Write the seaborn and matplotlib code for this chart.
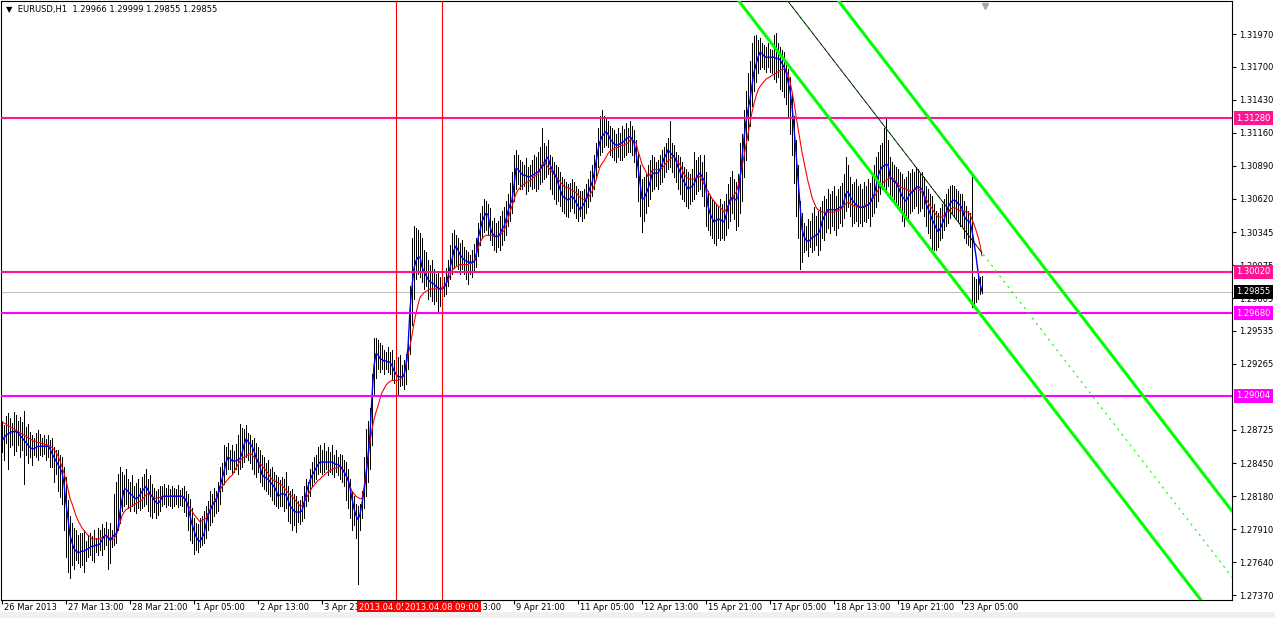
import numpy as np
import pandas as pd
import matplotlib
matplotlib.use("Agg")
import matplotlib.pyplot as plt
import matplotlib.transforms as mtransforms
from matplotlib.patches import Rectangle
import seaborn as sns

# EURUSD H1, one value per hourly bar (bar 0 = 26 Mar 05:00 ... bar 490 = 23 Apr 15:00)
# prices stored in 1/10000 units
bar_high = [
    12880, 12876, 12884, 12886, 12882, 12878, 12887, 12885, 12880, 12883,
    12879, 12888, 12875, 12877, 12871, 12868, 12866, 12870, 12872, 12869,
    12866, 12868, 12865, 12868, 12864, 12866, 12858, 12856, 12856, 12852,
    12850, 12842, 12834, 12815, 12802, 12796, 12792, 12790, 12786, 12788,
    12788, 12790, 12781, 12786, 12788, 12785, 12790, 12784, 12792, 12790,
    12795, 12792, 12797, 12791, 12796, 12790, 12820, 12830, 12836, 12842,
    12838, 12835, 12840, 12832, 12830, 12835, 12826, 12829, 12832, 12825,
    12834, 12836, 12840, 12832, 12835, 12828, 12825, 12822, 12824, 12826,
    12826, 12828, 12825, 12827, 12824, 12826, 12825, 12824, 12827, 12823,
    12825, 12826, 12822, 12820, 12816, 12808, 12800, 12796, 12795, 12800,
    12802, 12806, 12810, 12814, 12822, 12820, 12825, 12822, 12830, 12842,
    12845, 12860, 12858, 12862, 12856, 12860, 12855, 12861, 12868, 12877,
    12874, 12873, 12876, 12870, 12868, 12864, 12866, 12862, 12858, 12856,
    12852, 12850, 12845, 12848, 12840, 12842, 12838, 12835, 12834, 12831,
    12834, 12832, 12838, 12826, 12822, 12824, 12820, 12818, 12814, 12815,
    12818, 12826, 12832, 12830, 12840, 12846, 12850, 12852, 12858, 12860,
    12856, 12862, 12855, 12858, 12854, 12860, 12852, 12856, 12850, 12853,
    12852, 12848, 12846, 12840, 12832, 12822, 12818, 12812, 12810, 12812,
    12822, 12850, 12873, 12880, 12890, 12918, 12948, 12948, 12946, 12944,
    12942, 12938, 12936, 12940, 12936, 12938, 12930, 12928, 12932, 12934,
    12926, 12930, 12935, 12952, 12990, 13030, 13040, 13038, 13036, 13034,
    13030, 13020, 13018, 13012, 13008, 13012, 13004, 13000, 13002, 12998,
    12996, 12998, 13005, 13012, 13024, 13034, 13036, 13032, 13030, 13026,
    13028, 13022, 13020, 13018, 13016, 13020, 13025, 13030, 13042, 13050,
    13056, 13062, 13060, 13058, 13054, 13044, 13046, 13042, 13044, 13048,
    13052, 13055, 13060, 13066, 13075, 13084, 13098, 13102, 13098, 13094,
    13092, 13090, 13095, 13088, 13090, 13094, 13098, 13096, 13100, 13104,
    13120, 13108, 13105, 13110, 13098, 13096, 13092, 13090, 13088, 13084,
    13080, 13078, 13076, 13074, 13075, 13078, 13076, 13072, 13070, 13068,
    13068, 13070, 13074, 13078, 13085, 13090, 13098, 13108, 13120, 13130,
    13135, 13130, 13128, 13126, 13122, 13120, 13118, 13115, 13120, 13116,
    13122, 13119, 13124, 13120, 13126, 13122, 13118, 13110, 13100, 13090,
    13078, 13080, 13082, 13090, 13094, 13098, 13096, 13092, 13094, 13098,
    13102, 13104, 13108, 13112, 13126, 13108, 13106, 13100, 13098, 13096,
    13092, 13088, 13086, 13084, 13082, 13086, 13100, 13094, 13096, 13098,
    13092, 13098, 13084, 13068, 13065, 13062, 13060, 13058, 13056, 13062,
    13058, 13060, 13066, 13074, 13080, 13085, 13078, 13076, 13082, 13108,
    13115, 13135, 13150, 13165, 13175, 13190, 13195, 13196, 13192, 13194,
    13190, 13188, 13186, 13190, 13185, 13184, 13196, 13198, 13190, 13186,
    13184, 13182, 13175, 13168, 13162, 13148, 13130, 13110, 13090, 13060,
    13050, 13042, 13040, 13045, 13044, 13050, 13055, 13048, 13052, 13055,
    13060, 13064, 13062, 13070, 13066, 13068, 13072, 13064, 13070, 13072,
    13075, 13082, 13096, 13090, 13080, 13074, 13076, 13078, 13072, 13074,
    13070, 13076, 13072, 13078, 13075, 13082, 13090, 13096, 13100, 13106,
    13108, 13120, 13127, 13110, 13096, 13092, 13090, 13088, 13086, 13084,
    13082, 13078, 13080, 13085, 13083, 13086, 13084, 13088, 13086, 13082,
    13084, 13080, 13072, 13070, 13066, 13064, 13058, 13052, 13050, 13054,
    13058, 13062, 13066, 13070, 13072, 13073, 13072, 13070, 13068, 13066,
    13066, 13060, 13056, 13052, 13050, 13080, 12998, 12996, 12999, 12998,
    12999,
]
bar_low = [
    12854, 12848, 12862, 12840, 12858, 12860, 12852, 12855, 12860, 12850,
    12856, 12828, 12852, 12845, 12850, 12844, 12852, 12850, 12848, 12852,
    12851, 12853, 12848, 12850, 12842, 12842, 12830, 12836, 12822, 12817,
    12812, 12790, 12768, 12756, 12751, 12762, 12758, 12766, 12763, 12760,
    12762, 12756, 12765, 12768, 12770, 12766, 12764, 12772, 12770, 12774,
    12770, 12775, 12778, 12758, 12763, 12776, 12778, 12780, 12790, 12796,
    12806, 12810, 12812, 12808, 12806, 12810, 12806, 12804, 12808, 12807,
    12808, 12810, 12812, 12806, 12802, 12800, 12805, 12800, 12803, 12806,
    12810, 12812, 12809, 12811, 12810, 12808, 12810, 12812, 12809, 12811,
    12810, 12805, 12802, 12790, 12782, 12780, 12771, 12774, 12772, 12776,
    12778, 12780, 12784, 12790, 12794, 12797, 12802, 12804, 12806, 12812,
    12822, 12828, 12836, 12840, 12840, 12836, 12838, 12840, 12836, 12840,
    12842, 12846, 12850, 12848, 12845, 12840, 12836, 12834, 12838, 12830,
    12826, 12824, 12822, 12820, 12818, 12815, 12812, 12810, 12808, 12810,
    12810, 12806, 12808, 12798, 12796, 12790, 12794, 12789, 12797, 12795,
    12798, 12800, 12810, 12814, 12818, 12826, 12830, 12832, 12836, 12838,
    12836, 12838, 12840, 12835, 12838, 12836, 12834, 12838, 12835, 12832,
    12830, 12826, 12815, 12808, 12800, 12790, 12794, 12784, 12746, 12790,
    12800, 12808, 12818, 12830, 12840, 12860, 12900, 12915, 12922, 12920,
    12922, 12918, 12922, 12920, 12918, 12914, 12911, 12908, 12900, 12908,
    12909, 12906, 12910, 12922, 12935, 12958, 12980, 12996, 13000, 12998,
    12994, 12988, 12990, 12980, 12982, 12978, 12976, 12978, 12970, 12974,
    12978, 12982, 12984, 12990, 12996, 13000, 13005, 13008, 13004, 13000,
    13004, 13000, 12996, 12992, 13000, 12998, 13002, 13006, 13015, 13024,
    13030, 13035, 13036, 13032, 13028, 13024, 13020, 13018, 13022, 13020,
    13024, 13028, 13032, 13040, 13044, 13050, 13060, 13070, 13074, 13070,
    13070, 13072, 13066, 13068, 13072, 13070, 13071, 13068, 13070, 13074,
    13076, 13078, 13080, 13082, 13070, 13066, 13062, 13058, 13060, 13056,
    13052, 13050, 13048, 13047, 13052, 13054, 13050, 13046, 13044, 13048,
    13044, 13046, 13050, 13055, 13060, 13064, 13070, 13078, 13088, 13098,
    13100, 13104, 13106, 13104, 13098, 13096, 13094, 13092, 13096, 13094,
    13094, 13096, 13098, 13100, 13100, 13098, 13092, 13080, 13060, 13048,
    13035, 13044, 13050, 13056, 13062, 13068, 13070, 13072, 13070, 13074,
    13076, 13080, 13084, 13086, 13088, 13084, 13080, 13076, 13070, 13066,
    13062, 13060, 13056, 13054, 13058, 13060, 13062, 13066, 13068, 13070,
    13064, 13056, 13040, 13036, 13032, 13030, 13026, 13024, 13030, 13028,
    13030, 13028, 13032, 13038, 13044, 13050, 13045, 13036, 13040, 13050,
    13060, 13080, 13094, 13110, 13122, 13138, 13150, 13158, 13165, 13168,
    13170, 13168, 13166, 13170, 13166, 13165, 13160, 13158, 13162, 13152,
    13150, 13145, 13140, 13130, 13115, 13098, 13075, 13048, 13030, 13004,
    13010, 13018, 13020, 13015, 13022, 13018, 13020, 13024, 13016, 13020,
    13030, 13028, 13035, 13038, 13034, 13040, 13036, 13032, 13038, 13042,
    13040, 13046, 13052, 13055, 13048, 13040, 13042, 13044, 13040, 13042,
    13040, 13044, 13043, 13046, 13040, 13048, 13050, 13055, 13060, 13066,
    13070, 13072, 13068, 13072, 13062, 13064, 13060, 13058, 13054, 13052,
    13044, 13040, 13048, 13046, 13050, 13052, 13054, 13056, 13050, 13052,
    13054, 13048, 13040, 13034, 13030, 13018, 13020, 13020, 13022, 13028,
    13030, 13036, 13040, 13042, 13046, 13050, 13048, 13046, 13044, 13040,
    13040, 13030, 13026, 13024, 13022, 12973, 12975, 12977, 12980, 12984,
    12985,
]
ma_fast = [
    12863, 12866, 12868, 12869, 12870, 12871, 12871, 12871, 12870, 12868,
    12866, 12864, 12862, 12860, 12858, 12857, 12857, 12858, 12859, 12859,
    12859, 12859, 12859, 12859, 12857, 12853, 12850, 12847, 12844, 12841,
    12838, 12828, 12812, 12800, 12786, 12780, 12775, 12773, 12772, 12772,
    12773, 12773, 12774, 12775, 12776, 12777, 12777, 12778, 12778, 12779,
    12782, 12785, 12786, 12784, 12782, 12784, 12786, 12787, 12792, 12805,
    12815, 12823, 12824, 12822, 12820, 12819, 12817, 12816, 12817, 12819,
    12822, 12824, 12826, 12823, 12820, 12818, 12815, 12813, 12812, 12814,
    12817, 12818, 12818, 12818, 12818, 12818, 12818, 12818, 12818, 12818,
    12818, 12817, 12815, 12810, 12802, 12795, 12790, 12785, 12782, 12781,
    12784, 12787, 12795, 12802, 12806, 12810, 12813, 12814, 12820, 12826,
    12832, 12838, 12846, 12850, 12849, 12847, 12847, 12847, 12848, 12849,
    12853, 12860, 12865, 12863, 12861, 12859, 12855, 12850, 12846, 12842,
    12836, 12834, 12833, 12832, 12830, 12828, 12826, 12823, 12818, 12819,
    12820, 12820, 12819, 12815, 12810, 12808, 12806, 12805, 12805, 12805,
    12806, 12812, 12820, 12826, 12831, 12835, 12838, 12841, 12844, 12846,
    12846, 12846, 12846, 12846, 12846, 12846, 12845, 12844, 12844, 12843,
    12841, 12838, 12835, 12832, 12825, 12816, 12808, 12802, 12799, 12803,
    12812, 12822, 12834, 12852, 12869, 12900, 12925, 12935, 12934, 12931,
    12930, 12929, 12929, 12928, 12928, 12925, 12921, 12918, 12916, 12916,
    12916, 12917, 12926, 12940, 12971, 12990, 13005, 13011, 13014, 13014,
    13006, 13002, 12999, 12996, 12994, 12993, 12992, 12990, 12989, 12988,
    12988, 12989, 12992, 12998, 13005, 13012, 13020, 13023, 13020, 13016,
    13014, 13012, 13011, 13010, 13010, 13010, 13010, 13013, 13029, 13036,
    13043, 13047, 13050, 13049, 13039, 13034, 13032, 13031, 13031, 13033,
    13037, 13039, 13045, 13052, 13057, 13061, 13073, 13087, 13086, 13084,
    13082, 13081, 13081, 13080, 13080, 13081, 13082, 13083, 13084, 13086,
    13088, 13090, 13094, 13096, 13090, 13086, 13083, 13080, 13075, 13070,
    13065, 13063, 13062, 13061, 13062, 13064, 13062, 13059, 13056, 13053,
    13055, 13058, 13061, 13066, 13071, 13075, 13082, 13092, 13102, 13109,
    13113, 13115, 13117, 13115, 13111, 13109, 13107, 13106, 13106, 13107,
    13108, 13109, 13111, 13112, 13113, 13111, 13108, 13100, 13088, 13075,
    13062, 13062, 13066, 13070, 13075, 13082, 13083, 13083, 13083, 13086,
    13090, 13095, 13098, 13102, 13100, 13098, 13097, 13093, 13088, 13084,
    13079, 13076, 13073, 13070, 13071, 13072, 13074, 13078, 13081, 13083,
    13080, 13077, 13070, 13056, 13050, 13046, 13043, 13044, 13045, 13045,
    13044, 13043, 13048, 13055, 13061, 13063, 13062, 13061, 13063, 13078,
    13095, 13112, 13125, 13135, 13143, 13155, 13166, 13172, 13178, 13182,
    13181, 13179, 13178, 13178, 13178, 13178, 13178, 13177, 13177, 13176,
    13173, 13170, 13166, 13158, 13151, 13138, 13120, 13100, 13078, 13057,
    13037, 13031, 13028, 13027, 13028, 13030, 13031, 13032, 13033, 13036,
    13043, 13047, 13050, 13053, 13053, 13053, 13053, 13053, 13054, 13055,
    13055, 13060, 13066, 13068, 13064, 13061, 13059, 13057, 13056, 13055,
    13055, 13055, 13056, 13057, 13058, 13062, 13065, 13072, 13080, 13085,
    13088, 13089, 13090, 13090, 13080, 13078, 13076, 13075, 13072, 13068,
    13064, 13062, 13060, 13063, 13066, 13067, 13069, 13071, 13072, 13071,
    13070, 13065, 13058, 13054, 13050, 13045, 13042, 13038, 13035, 13037,
    13041, 13045, 13050, 13055, 13058, 13060, 13061, 13060, 13058, 13057,
    13054, 13048, 13045, 13044, 13043, 13036, 13026, 13015, 13002, 12992,
    12986,
]
ma_slow = [
    12879, 12878, 12877, 12876, 12875, 12874, 12873, 12872, 12871, 12870,
    12869, 12868, 12867, 12866, 12865, 12864, 12863, 12863, 12862, 12862,
    12861, 12861, 12860, 12860, 12859, 12858, 12856, 12854, 12851, 12847,
    12842, 12837, 12831, 12824, 12816, 12812, 12807, 12802, 12798, 12795,
    12792, 12790, 12788, 12786, 12785, 12783, 12783, 12783, 12783, 12783,
    12784, 12785, 12786, 12785, 12783, 12782, 12783, 12786, 12790, 12796,
    12802, 12805, 12807, 12808, 12809, 12810, 12811, 12812, 12813, 12814,
    12815, 12817, 12819, 12820, 12819, 12818, 12817, 12816, 12817, 12817,
    12818, 12818, 12818, 12818, 12818, 12818, 12818, 12818, 12818, 12818,
    12818, 12816, 12814, 12811, 12808, 12806, 12803, 12801, 12799, 12797,
    12798, 12799, 12800, 12804, 12807, 12810, 12813, 12816, 12820, 12823,
    12826, 12828, 12830, 12832, 12834, 12835, 12838, 12841, 12844, 12847,
    12849, 12850, 12851, 12852, 12853, 12852, 12850, 12849, 12847, 12845,
    12843, 12841, 12839, 12837, 12834, 12832, 12831, 12830, 12829, 12828,
    12827, 12825, 12823, 12821, 12819, 12818, 12816, 12814, 12812, 12810,
    12810, 12813, 12816, 12819, 12822, 12825, 12827, 12829, 12831, 12832,
    12834, 12835, 12837, 12838, 12839, 12840, 12841, 12841, 12842, 12842,
    12840, 12838, 12835, 12831, 12826, 12822, 12820, 12818, 12817, 12816,
    12816, 12825, 12838, 12849, 12862, 12873, 12881, 12887, 12892, 12898,
    12903, 12906, 12909, 12911, 12912, 12913, 12913, 12913, 12913, 12914,
    12915, 12917, 12925, 12934, 12941, 12950, 12960, 12968, 12975, 12981,
    12983, 12985, 12986, 12987, 12988, 12988, 12988, 12988, 12988, 12988,
    12989, 12990, 12992, 12995, 12999, 13003, 13005, 13006, 13007, 13008,
    13008, 13008, 13008, 13008, 13009, 13009, 13011, 13016, 13021, 13026,
    13029, 13031, 13032, 13032, 13032, 13032, 13031, 13031, 13031, 13032,
    13034, 13036, 13040, 13045, 13051, 13056, 13061, 13066, 13069, 13071,
    13073, 13074, 13075, 13076, 13077, 13078, 13080, 13081, 13082, 13085,
    13090, 13092, 13090, 13088, 13086, 13084, 13082, 13080, 13078, 13076,
    13074, 13072, 13071, 13071, 13070, 13069, 13068, 13067, 13065, 13063,
    13062, 13061, 13062, 13063, 13065, 13068, 13072, 13077, 13083, 13088,
    13091, 13093, 13096, 13099, 13101, 13102, 13103, 13104, 13104, 13105,
    13106, 13106, 13107, 13108, 13110, 13110, 13109, 13108, 13101, 13096,
    13090, 13087, 13084, 13080, 13082, 13085, 13086, 13086, 13086, 13086,
    13087, 13089, 13091, 13093, 13094, 13096, 13096, 13094, 13092, 13090,
    13086, 13082, 13080, 13079, 13078, 13078, 13078, 13079, 13080, 13080,
    13077, 13074, 13071, 13068, 13065, 13062, 13060, 13058, 13056, 13055,
    13053, 13051, 13053, 13056, 13059, 13062, 13065, 13067, 13072, 13080,
    13088, 13097, 13106, 13115, 13124, 13133, 13140, 13146, 13151, 13154,
    13156, 13158, 13160, 13161, 13162, 13163, 13164, 13165, 13166, 13167,
    13168, 13168, 13167, 13164, 13158, 13150, 13141, 13130, 13120, 13110,
    13100, 13092, 13084, 13076, 13070, 13063, 13059, 13055, 13053, 13052,
    13051, 13051, 13051, 13051, 13051, 13051, 13051, 13052, 13052, 13053,
    13054, 13056, 13058, 13059, 13058, 13057, 13056, 13056, 13055, 13055,
    13055, 13056, 13057, 13057, 13059, 13061, 13063, 13066, 13069, 13072,
    13074, 13076, 13077, 13078, 13079, 13079, 13078, 13076, 13074, 13072,
    13071, 13070, 13070, 13069, 13068, 13068, 13069, 13070, 13070, 13069,
    13067, 13065, 13062, 13059, 13056, 13054, 13051, 13049, 13047, 13047,
    13047, 13048, 13050, 13052, 13053, 13054, 13055, 13054, 13053, 13052,
    13052, 13052, 13051, 13051, 13049, 13045, 13041, 13036, 13031, 13024,
    13015,
]

bid = 1.29855
levels = [1.31280, 1.30020, 1.29680, 1.29004]
level_colors = ["#FF1493", "#FF1493", "#FF00FF", "#FF00FF"]

vline_bars = [197, 220]
vline_labels = ["2013.04.05 10:00", "2013.04.08 09:00"]

# equidistant channel anchors (bar index, price)
chan_bars = [392, 487]
chan_lower = [1.31740, 1.29720]
chan_upper = [1.32800, 1.30780]
mid_bars = [392, 490]
mid_prices = [1.32260, 1.30176]

time_ticks = [0, 32, 64, 96, 128, 160, 192, 224, 256, 288, 320, 352, 384, 416, 448, 480]
time_labels = ["26 Mar 2013", "27 Mar 13:00", "28 Mar 21:00", "1 Apr 05:00", "2 Apr 13:00",
               "3 Apr 21:00", "5 Apr 05:00", "8 Apr 13:00", "9 Apr 21:00", "11 Apr 05:00",
               "12 Apr 13:00", "15 Apr 21:00", "17 Apr 05:00", "18 Apr 13:00", "19 Apr 21:00",
               "23 Apr 05:00"]
price_ticks = [1.31970, 1.31700, 1.31430, 1.31160, 1.30890, 1.30620, 1.30345, 1.30075,
               1.29805, 1.29535, 1.29265, 1.28725, 1.28450, 1.28180, 1.27910,
               1.27640, 1.27370]

df = pd.DataFrame({
    "bar": np.arange(len(bar_high)),
    "high": np.array(bar_high) / 10000,
    "low": np.array(bar_low) / 10000,
    "ma_fast": np.array(ma_fast) / 10000,
    "ma_slow": np.array(ma_slow) / 10000,
})

sns.set_theme(style="white")
plt.rcParams["font.family"] = ["DejaVu Sans"]

fig = plt.figure(figsize=(12.75, 6.18), dpi=100)
ax = fig.add_axes([1 / 1275, 18 / 618, 1231 / 1275, 599 / 618])
ax.set_facecolor("white")

ax.vlines(df["bar"], df["low"], df["high"], color="black", lw=0.7, antialiased=False, zorder=2)
sns.lineplot(data=df, x="bar", y="ma_slow", ax=ax, color="#FF0000", lw=0.8, zorder=3, legend=False)
sns.lineplot(data=df, x="bar", y="ma_fast", ax=ax, color="#0000FF", lw=1.0, zorder=3, legend=False)

ax.axhline(bid, color="#C0C0C0", lw=0.8, zorder=1)
for lv, c in zip(levels, level_colors):
    ax.axhline(lv, color=c, lw=1.5, zorder=4)
for b in vline_bars:
    ax.axvline(b, color="#FF0000", lw=0.8, zorder=4)

# channel
ax.axline((chan_bars[0], chan_lower[0]), (chan_bars[1], chan_lower[1]), color="#00FF00", lw=2.2, zorder=5)
ax.axline((chan_bars[0], chan_upper[0]), (chan_bars[1], chan_upper[1]), color="#00FF00", lw=2.2, zorder=5)
ax.axline((mid_bars[0], mid_prices[0]), (mid_bars[1], mid_prices[1]), color="#00FF00", lw=0.8,
          ls=(0, (2, 4)), zorder=5)
ax.plot(mid_bars, mid_prices, color="black", lw=0.6, zorder=5)

ax.set_xlim(-0.5, 615)
ax.set_ylim(1.27329, 1.32241)
ax.set_xlabel("")
ax.set_ylabel("")

ax.yaxis.tick_right()
ax.set_yticks(price_ticks)
ax.set_yticklabels([f"{p:.5f}" for p in price_ticks])
ax.tick_params(axis="y", direction="out", length=3, width=0.8, pad=2, labelsize=6, colors="black",
               right=True, left=False)
ax.set_xticks(time_ticks)
ax.set_xticklabels(time_labels)
ax.tick_params(axis="x", direction="out", length=3, width=0.8, pad=0, labelsize=6, colors="black",
               bottom=True)
offset = mtransforms.ScaledTranslation(2 / 100, 1.5 / 100, fig.dpi_scale_trans)
for lab in ax.get_xticklabels():
    lab.set_horizontalalignment("left")
    lab.set_transform(lab.get_transform() + offset)

for s in ax.spines.values():
    s.set_color("black")
    s.set_linewidth(0.8)

# price labels on the scale
ytrans = mtransforms.blended_transform_factory(ax.transAxes, ax.transData)
for lv, c in zip(levels, level_colors):
    ax.text(1.0 + 4 / 1231, lv, f"{lv:.5f}", transform=ytrans, ha="left", va="center", fontsize=6,
            color="white", bbox=dict(boxstyle="square,pad=0.3", fc=c, ec="none"), clip_on=False, zorder=10)
ax.text(1.0 + 4 / 1231, bid, f"{bid:.5f}", transform=ytrans, ha="left", va="center", fontsize=6,
        color="white", bbox=dict(boxstyle="square,pad=0.3", fc="black", ec="none"), clip_on=False, zorder=10)

# time labels of the vertical lines
xtrans = mtransforms.blended_transform_factory(ax.transData, ax.transAxes)
for b, t in zip(vline_bars, vline_labels):
    ax.text(b, -0.0125, t, transform=xtrans, ha="center", va="center", fontsize=6, color="white",
            bbox=dict(boxstyle="square,pad=0.25", fc="#FF0000", ec="none"), clip_on=False, zorder=10)

ax.text(0.004, 0.994, "\u25bc  EURUSD,H1  1.29966 1.29999 1.29855 1.29855", transform=ax.transAxes,
        ha="left", va="top", fontsize=6, color="black")
ax.plot([491.5], [0.992], transform=xtrans, marker="v", ms=5, color="#A8A8A8", clip_on=False, zorder=6)

fig.add_artist(Rectangle((0, 0), 1, 6 / 618, transform=fig.transFigure, fc="#F0F0F0", ec="none"))

fig.savefig("out.png", dpi=100)
